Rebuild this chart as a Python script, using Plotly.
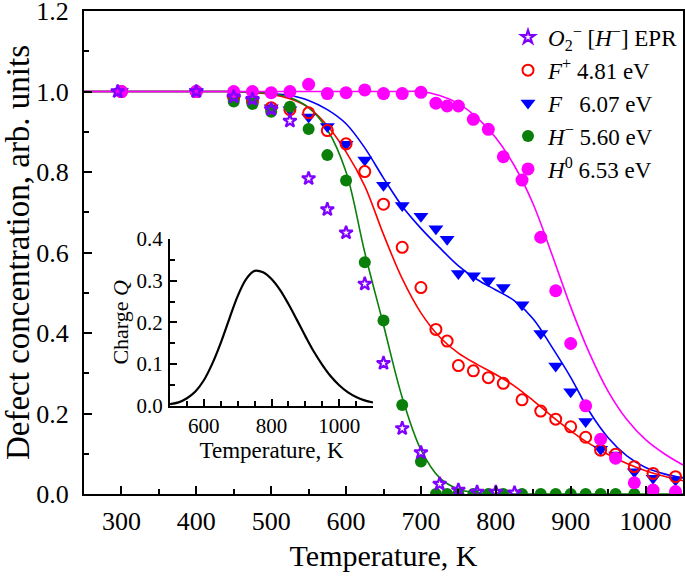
import plotly.graph_objects as go

# ---------------- data ----------------
T_epr = [295, 400, 450, 475, 500, 525, 550, 575, 600, 625, 650, 675, 700, 725, 750, 775, 800, 825]
epr = [1.0, 1.0, 0.987, 0.981, 0.956, 0.927, 0.784, 0.707, 0.649, 0.522, 0.325, 0.163, 0.103, 0.025,
       0.010, 0.005, 0.005, 0.003]

T_pts = [300, 400, 450, 475, 500, 525, 550, 575, 600, 625, 650, 675, 700, 720, 735, 750, 770, 790,
         810, 835, 860, 880, 900, 920, 940, 960, 985, 1010, 1040]
f_plus = [1.0, 1.0, 0.985, 0.975, 0.96, 0.955, 0.947, 0.903, 0.870, 0.801, 0.720, 0.613, 0.513, 0.409,
          0.380, 0.319, 0.306, 0.289, 0.275, 0.234, 0.206, 0.186, 0.167, 0.141, 0.109, 0.099, 0.068,
          0.051, 0.043]
f_cent = [1.0, 1.0, 0.98, 0.975, 0.96, 0.955, 0.937, 0.913, 0.869, 0.830, 0.767, 0.717, 0.690, 0.659,
          0.633, 0.548, 0.542, 0.530, 0.513, 0.470, 0.399, 0.318, 0.254, 0.180, 0.111, 0.097, 0.055,
          0.039, 0.035]
h_minus = [1.0, 1.0, 0.975, 0.969, 0.95, 0.962, 0.907, 0.842, 0.779, 0.576, 0.431, 0.221, 0.081, 0, 0,
           0, 0, 0, 0, 0, 0, 0, 0, 0, 0, 0, 0, 0, 0]
h_zero = [1.0, 1.0, 1.0, 1.0, 0.997, 1.0, 1.018, 0.995, 0.997, 1.004, 0.995, 0.995, 0.998, 0.971,
          0.964, 0.964, 0.931, 0.906, 0.838, 0.780, 0.638, 0.505, 0.374, 0.219, 0.136, 0.089, 0.028,
          0.010, 0.006]

# fitted curves
T_fit = [250, 275, 300, 325, 350, 375, 400, 425, 450, 475, 500, 525, 550, 575, 600, 625, 650, 675,
         700, 725, 750, 775, 800, 825, 850, 875, 900, 925, 950, 975, 1000, 1025, 1050]
fit_f_plus = [1, 1, 1, 1, 1, 1, 1, 1, 1, 0.998, 0.993, 0.982, 0.96, 0.915, 0.85, 0.765, 0.645, 0.535,
              0.45, 0.39, 0.35, 0.322, 0.297, 0.268, 0.232, 0.193, 0.157, 0.125, 0.098, 0.076, 0.058,
              0.044, 0.033]
fit_f_cent = [1, 1, 1, 1, 1, 1, 1, 1, 1, 0.998, 0.995, 0.99, 0.978, 0.955, 0.92, 0.86, 0.785, 0.715,
              0.66, 0.612, 0.567, 0.533, 0.507, 0.48, 0.435, 0.365, 0.29, 0.205, 0.14, 0.095, 0.066,
              0.05, 0.04]
fit_h_minus = [1, 1, 1, 1, 1, 1, 1, 1, 1, 0.998, 0.995, 0.985, 0.96, 0.905, 0.80, 0.60, 0.42, 0.24,
               0.11, 0.04, 0.012, 0.003, 0, 0, 0, 0, 0, 0, 0, 0, 0, 0, 0]
fit_h_zero = [1, 1, 1, 1, 1, 1, 1, 1, 1, 1, 1, 1, 1, 1, 1, 1, 1, 1, 1, 0.99, 0.97, 0.935, 0.885,
              0.815, 0.72, 0.595, 0.465, 0.35, 0.255, 0.185, 0.135, 0.1, 0.072]

# inset: charge Q
T_q = [500, 525, 550, 575, 600, 625, 650, 675, 700, 725, 750, 775, 800, 825, 850, 875, 900, 925, 950,
       975, 1000, 1025, 1050, 1075, 1100]
charge_q = [0.004, 0.008, 0.018, 0.034, 0.061, 0.101, 0.151, 0.208, 0.263, 0.304, 0.3235, 0.320,
            0.304, 0.278, 0.244, 0.206, 0.167, 0.130, 0.098, 0.0705, 0.049, 0.0326, 0.0209, 0.0129,
            0.0076]

y_ticks = [0.0, 0.2, 0.4, 0.6, 0.8, 1.0, 1.2]
q_ticks = [0.0, 0.1, 0.2, 0.3, 0.4]

# ---------------- styling ----------------
FONT = "Liberation Serif, Times New Roman, serif"
C_EPR = "#7F00FF"
C_RED = "#FF0000"
C_BLUE = "#0000FF"
C_GREEN = "#0A7F0A"
C_MAG = "#FF00FF"

fig = go.Figure()

for y, c in [(fit_f_cent, C_BLUE), (fit_f_plus, C_RED), (fit_h_minus, C_GREEN), (fit_h_zero, C_MAG)]:
    fig.add_trace(go.Scatter(x=T_fit, y=y, mode="lines", line=dict(color=c, width=1.6, shape="spline"),
                             showlegend=False, hoverinfo="skip"))

fig.add_trace(go.Scatter(x=T_pts, y=f_cent, mode="markers", name="<i>F</i>   6.07 eV", legendrank=3,
                         marker=dict(symbol="triangle-down", size=13, color=C_BLUE)))
fig.add_trace(go.Scatter(x=T_pts, y=f_plus, mode="markers", name="<i>F</i><sup>+</sup> 4.81 eV", legendrank=2,
                         marker=dict(symbol="circle-open", size=11, color=C_RED, line=dict(width=2, color=C_RED))))
fig.add_trace(go.Scatter(x=T_pts, y=h_minus, mode="markers", name="<i>H</i><sup>−</sup> 5.60 eV", legendrank=4,
                         marker=dict(symbol="circle", size=12, color=C_GREEN)))
fig.add_trace(go.Scatter(x=T_pts, y=h_zero, mode="markers", name="<i>H</i><sup>0</sup> 6.53 eV", legendrank=5,
                         marker=dict(symbol="circle", size=13, color=C_MAG)))
fig.add_trace(go.Scatter(x=T_epr, y=epr, mode="markers",
                         name="<i>O</i><sub>2</sub><sup>−</sup> [<i>H</i><sup>−</sup>] EPR", legendrank=1,
                         marker=dict(symbol="star-open", size=10, color=C_EPR, line=dict(width=2.2, color=C_EPR))))

fig.add_trace(go.Scatter(x=T_q, y=charge_q, mode="lines", xaxis="x2", yaxis="y2",
                         line=dict(color="black", width=2.2, shape="spline"), showlegend=False, hoverinfo="skip"))

axis_common = dict(showline=True, linecolor="black", linewidth=2, ticks="inside", tickcolor="black",
                   tickwidth=1.5, showgrid=False, zeroline=False, automargin=False,
                   ticklabeloverflow="allow")

fig.update_layout(
    width=685, height=583,
    margin=dict(l=84, r=2, t=11, b=89),
    paper_bgcolor="white", plot_bgcolor="rgba(0,0,0,0)",
    font=dict(family=FONT, color="black"),
    showlegend=True,
    legend=dict(x=1.0, y=0.99, xanchor="right", yanchor="top", bgcolor="rgba(0,0,0,0)",
                font=dict(family=FONT, size=23), tracegroupgap=0, itemsizing="trace"),
    xaxis=dict(**axis_common, range=[250, 1050], mirror=True, tickmode="array",
               tickvals=[300, 400, 500, 600, 700, 800, 900, 1000], ticklen=8,
               minor=dict(tickvals=[350, 450, 550, 650, 750, 850, 950, 1050], ticklen=5, ticks="inside",
                          tickcolor="black", tickwidth=1.5),
               tickfont=dict(size=26), ticklabelstandoff=3,
               title=dict(text="Temperature, K", font=dict(size=30), standoff=10)),
    yaxis=dict(**axis_common, range=[0, 1.2001], mirror=True, tickmode="array",
               tickvals=y_ticks, ticktext=[f"{v:.1f}" for v in y_ticks], ticklen=8,
               minor=dict(tickvals=[0.1, 0.3, 0.5, 0.7, 0.9, 1.1], ticklen=5, ticks="inside",
                          tickcolor="black", tickwidth=1.5),
               tickfont=dict(size=26), ticklabelstandoff=8,
               title=dict(text="Defect concentration, arb. units", font=dict(size=33), standoff=4)),
    xaxis2=dict(**axis_common, domain=[0.1436, 0.4825], anchor="y2", range=[500, 1100], tickmode="array",
                tickvals=[600, 800, 1000], ticklen=7,
                minor=dict(tickvals=[550, 650, 700, 750, 850, 900, 950, 1050, 1100], ticklen=5, ticks="inside",
                           tickcolor="black", tickwidth=1.5),
                tickfont=dict(size=21), ticklabelstandoff=0,
                title=dict(text="Temperature, K", font=dict(size=23), standoff=0)),
    yaxis2=dict(**axis_common, domain=[0.1828, 0.528], anchor="x2", range=[0, 0.4001], tickmode="array",
                tickvals=q_ticks, ticktext=[f"{v:.1f}" for v in q_ticks], ticklen=7,
                minor=dict(tickvals=[0.05, 0.15, 0.25, 0.35], ticklen=5, ticks="inside",
                           tickcolor="black", tickwidth=1.5),
                tickfont=dict(size=21), ticklabelstandoff=1,
                title=dict(text="Charge <i>Q</i>", font=dict(size=22), standoff=2)),
)

fig.write_html("out.html", config={"displayModeBar": False},
               post_script="document.body.style.margin='0';")
